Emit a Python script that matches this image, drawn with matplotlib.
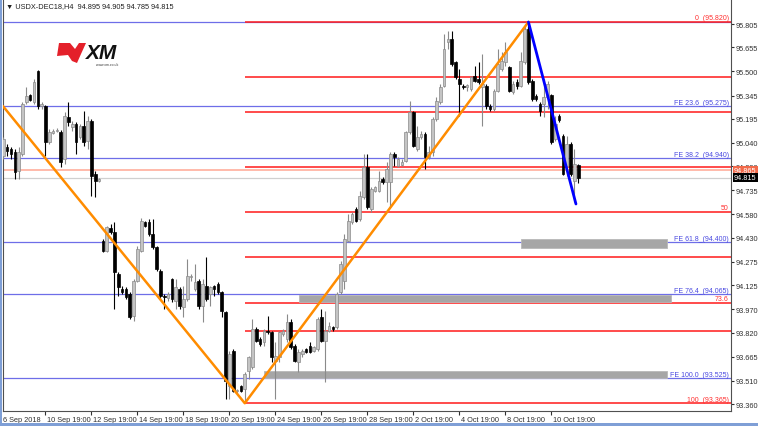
import matplotlib.pyplot as plt
import matplotlib.transforms as mtransforms
from matplotlib.patches import Rectangle, Polygon

plt.rcParams['font.family'] = ['Liberation Sans', 'DejaVu Sans']

# H4 candles, USDX-DEC18 (bar 0 = 6 Sep 2018)
opens = [94.956, 95.014, 95.001, 94.982, 94.859, 94.969, 95.303, 95.348, 95.303, 95.503,
         95.277, 95.277, 95.046, 95.104, 95.117, 95.110, 94.937, 95.207, 95.143, 95.162,
         95.078, 95.149, 95.052, 95.181, 94.840, 94.795,
         94.409, 94.345, 94.493, 94.467, 94.196, 94.100, 94.100, 94.068, 93.926, 94.152,
         94.345, 94.531, 94.531, 94.454, 94.370, 94.216, 94.055, 94.042, 94.164, 94.023,
         94.100, 93.984, 94.036, 94.177, 94.100, 94.152, 93.991, 94.119, 94.068, 94.119,
         94.132, 94.081, 93.952, 93.476, 93.701, 93.444, 93.476, 93.457,
         93.573, 93.598, 93.843, 93.778, 93.759, 93.830, 93.823, 93.637, 93.662, 93.811,
         93.778, 93.888, 93.733, 93.630, 93.682, 93.714, 93.733, 93.701, 93.714, 93.920,
         93.766, 93.830, 93.856, 93.856, 94.081, 94.152, 94.409, 94.531, 94.615, 94.550,
         94.692, 94.886, 94.615, 94.731, 94.731, 94.808, 94.789, 94.789, 94.969, 94.891,
         94.898, 94.924, 95.110, 95.239, 95.001, 95.078, 95.097, 94.949, 94.982, 95.194,
         95.303, 95.406, 95.689, 95.709, 95.561, 95.451, 95.406, 95.400, 95.387, 95.471,
         95.451, 95.400, 95.406, 95.277, 95.258, 95.374, 95.516, 95.561, 95.528, 95.368,
         95.432, 95.406, 95.561, 95.773, 95.438, 95.342, 95.290, 95.290, 95.335, 95.348,
         95.065, 95.213, 95.085, 94.891, 95.033, 94.795, 94.895]
highs = [95.078, 95.033, 95.014, 95.001, 95.014, 95.303, 95.400, 95.355, 95.451, 95.509,
         95.303, 95.284, 95.130, 95.130, 95.136, 95.123, 95.239, 95.303, 95.181, 95.175,
         95.162, 95.245, 95.213, 95.194, 94.859, 94.814,
         94.422, 94.505, 94.518, 94.531, 94.209, 94.119, 94.113, 94.081, 94.164, 94.377,
         94.557, 94.538, 94.550, 94.550, 94.377, 94.229, 94.068, 94.081, 94.171, 94.164,
         94.113, 94.119, 94.293, 94.196, 94.261, 94.164, 94.164, 94.306, 94.119, 94.125,
         94.145, 94.087, 93.959, 93.701, 93.714, 93.457, 93.482, 93.566,
         93.669, 93.907, 93.856, 93.791, 93.843, 93.926, 93.830, 93.759, 93.830, 93.843,
         93.939, 93.907, 93.746, 93.714, 93.714, 93.720, 93.759, 93.733, 93.920, 93.971,
         93.959, 93.888, 93.862, 94.081, 94.280, 94.454, 94.583, 94.596, 94.628, 94.731,
         94.969, 94.969, 94.756, 94.763, 94.859, 94.821, 94.917, 94.982, 94.982, 94.949,
         94.937, 95.117, 95.310, 95.245, 95.149, 95.117, 95.110, 95.020, 95.207, 95.335,
         95.419, 95.741, 95.760, 95.760, 95.567, 95.516, 95.419, 95.419, 95.471, 95.535,
         95.561, 95.612, 95.419, 95.290, 95.387, 95.644, 95.625, 95.689, 95.535, 95.438,
         95.451, 95.625, 95.805, 95.818, 95.451, 95.355, 95.303, 95.451, 95.438, 95.355,
         95.213, 95.226, 95.097, 95.085, 95.046, 95.001, 94.905]
lows = [94.937, 94.956, 94.937, 94.808, 94.808, 94.956, 95.290, 95.310, 95.290, 95.258,
        95.258, 94.956, 95.033, 95.097, 95.110, 94.886, 94.904, 95.149, 95.117, 94.969,
        95.065, 95.020, 95.001, 94.698, 94.692, 94.789,
        94.338, 94.338, 94.454, 93.971, 94.055, 94.068, 94.036, 93.907, 93.894, 94.145,
        94.338, 94.499, 94.441, 94.357, 94.216, 94.036, 93.971, 94.023, 94.017, 93.971,
        93.971, 93.920, 94.023, 94.152, 94.087, 93.971, 93.888, 94.023, 93.991, 94.055,
        94.068, 93.920, 93.392, 93.392, 93.437, 93.431, 93.437, 93.365,
        93.521, 93.585, 93.759, 93.733, 93.733, 93.811, 93.630, 93.392, 93.630, 93.798,
        93.759, 93.714, 93.630, 93.566, 93.662, 93.688, 93.688, 93.695, 93.701, 93.759,
        93.502, 93.823, 93.830, 93.843, 94.068, 94.100, 94.403, 94.518, 94.531, 94.538,
        94.679, 94.615, 94.596, 94.724, 94.724, 94.776, 94.660, 94.628, 94.891, 94.886,
        94.891, 94.917, 95.097, 95.014, 94.988, 95.065, 94.872, 94.937, 94.956, 95.181,
        95.290, 95.400, 95.644, 95.535, 95.451, 95.213, 95.387, 95.374, 95.374, 95.432,
        95.419, 95.149, 95.258, 95.245, 95.245, 95.368, 95.503, 95.535, 95.368, 95.355,
        95.387, 95.400, 95.548, 95.419, 95.310, 95.310, 95.213, 95.207, 95.258, 95.033,
        95.052, 95.175, 94.834, 94.827, 94.827, 94.660, 94.785]
closes = [95.065, 94.988, 94.969, 94.853, 94.982, 95.290, 95.342, 95.316, 95.432, 95.277,
          95.290, 95.046, 95.110, 95.117, 95.123, 94.917, 95.213, 95.175, 95.162, 95.046,
          95.149, 95.046, 95.181, 94.827, 94.795, 94.808,
          94.345, 94.499, 94.467, 94.209, 94.113, 94.081, 94.049, 93.920, 94.152, 94.357,
          94.538, 94.505, 94.454, 94.370, 94.229, 94.055, 94.049, 94.068, 94.036, 94.113,
          93.991, 94.036, 94.184, 94.184, 94.145, 93.991, 94.132, 94.036, 94.113, 94.100,
          94.081, 93.959, 93.508, 93.682, 93.444, 93.450, 93.444, 93.553,
          93.662, 93.843, 93.766, 93.746, 93.830, 93.826, 93.662, 93.669, 93.823, 93.830,
          93.888, 93.727, 93.637, 93.695, 93.701, 93.695, 93.695, 93.727, 93.907, 93.766,
          93.830, 93.862, 93.843, 94.068, 94.261, 94.422, 94.538, 94.583, 94.538, 94.698,
          94.886, 94.628, 94.743, 94.756, 94.795, 94.789, 94.872, 94.969, 94.949, 94.937,
          94.917, 95.110, 95.239, 95.020, 95.078, 95.097, 94.949, 94.982, 95.194, 95.310,
          95.400, 95.644, 95.709, 95.548, 95.464, 95.419, 95.400, 95.410, 95.464, 95.438,
          95.432, 95.419, 95.277, 95.258, 95.374, 95.548, 95.567, 95.625, 95.374, 95.419,
          95.406, 95.567, 95.773, 95.432, 95.322, 95.322, 95.245, 95.335, 95.419, 95.046,
          95.162, 95.187, 94.840, 95.033, 94.840, 94.904, 94.815]

date_ticks = [11, 23, 35, 47, 59, 71, 83, 95, 107, 119, 131, 143]
date_labels = ['10 Sep 19:00', '12 Sep 19:00', '14 Sep 19:00', '18 Sep 19:00', '20 Sep 19:00',
               '24 Sep 19:00', '26 Sep 19:00', '28 Sep 19:00', '2 Oct 19:00', '4 Oct 19:00',
               '8 Oct 19:00', '10 Oct 19:00']
price_ticks = [95.805, 95.655, 95.500, 95.345, 95.195, 95.040, 94.890, 94.735, 94.580,
               94.430, 94.275, 94.125, 93.970, 93.820, 93.665, 93.510, 93.360]

# fibonacci retracement (red) from the 20 Sep low, expansion levels (blue)
fib_start = 63
fib_levels = [95.820, 95.464, 95.239, 94.886, 94.596, 94.306, 94.010, 93.830, 93.365]
fib_text = {0: '0  (95.820)', 4: '50', 6: '73.6', 8: '100  (93.365)'}
fe_levels = [95.817, 95.275, 94.940, 94.400, 94.065, 93.525]
fe_text = ['', 'FE 23.6_(95.275)', 'FE 38.2_(94.940)', 'FE 61.8_(94.400)',
           'FE 76.4_(94.065)', 'FE 100.0_(93.525)']
# grey zones: start bar, end bar, low, high
zones = [(135.1, 173.2, 94.364, 94.422),
         (77.1, 174.2, 94.017, 94.062),
         (68.0, 173.2, 93.527, 93.573)]
swing_x = [-0.1, 63, 137]
swing_y = [95.277, 93.365, 95.818]
leg_x = [137, 149.4]
leg_y = [95.818, 94.647]
bid, ask = 94.815, 94.865

W, H = 758, 427
fig = plt.figure(figsize=(W / 100, H / 100), dpi=100)
ax = fig.add_axes([3 / W, 15 / H, 728 / W, 412 / H])
ax.set_xlim(-0.08, 189.85)
ax.set_ylim(93.315, 95.966)

# horizontal levels
for lv, txt in zip(fe_levels, fe_text):
    ax.axhline(lv, color='#6e6ee8', lw=0.9, zorder=1)
    if txt:
        ax.text(0.997, lv + 0.004, txt, transform=ax.get_yaxis_transform(), ha='right',
                va='bottom', fontsize=5, color='#4848e0', zorder=6)
for i, lv in enumerate(fib_levels):
    ax.hlines(lv, fib_start, 200, color='#ff1a1a', lw=1.1, zorder=2)
    if i in fib_text:
        ax.text(0.997, lv + 0.004, fib_text[i], transform=ax.get_yaxis_transform(),
                ha='right', va='bottom', fontsize=5, color='#ff3030', zorder=6)
ax.axhline(ask, color='#ffb4a4', lw=1.3, zorder=1)
ax.axhline(bid, color='#d0d0d0', lw=0.9, zorder=1)

for x0, x1, lo, hi in zones:
    ax.add_patch(Rectangle((x0, lo), x1 - x0, hi - lo, facecolor='#a6a6a6',
                           edgecolor='#b8b8b8', lw=0.6, zorder=3))

# candles
for i, (o, h, l, c) in enumerate(zip(opens, highs, lows, closes)):
    up = c >= o
    col = '#8a8a8a' if up else '#000000'
    ax.vlines(i, l, h, color=col, lw=0.8, zorder=4)
    body = max(abs(c - o), 0.005)
    ax.bar(i, body, bottom=min(o, c), width=0.68, color='#c4c4c4' if up else '#000000',
           edgecolor=col, lw=0.5, zorder=5)

ax.plot(swing_x, swing_y, color='#ff8c00', lw=1.8, zorder=7, solid_capstyle='round')
ax.plot(leg_x, leg_y, color='#0000ff', lw=2.0, zorder=7, solid_capstyle='round')

# axes styling
for side in ['top']:
    ax.spines[side].set_visible(False)
for side in ['left', 'right', 'bottom']:
    ax.spines[side].set_color('#505050')
    ax.spines[side].set_linewidth(0.8)
ax.yaxis.tick_right()
ax.set_yticks(price_ticks)
ax.set_yticklabels([f'{p:.3f}' for p in price_ticks])
ax.tick_params(axis='y', labelsize=5.3, length=2, pad=1.5, colors='#303030')
ax.set_xticks(date_ticks)
ax.set_xticklabels([])
ax.tick_params(axis='x', length=3, colors='#303030')
xt = ax.get_xaxis_transform()
ax.text(0, -0.012, '6 Sep 2018', transform=xt, ha='left', va='top', fontsize=5.3,
        color='#303030')
for b, lab in zip(date_ticks, date_labels):
    ax.text(b + 0.5, -0.012, lab, transform=xt, ha='left', va='top', fontsize=5.3,
            color='#303030')

# current price tags on the scale
yt = ax.get_yaxis_transform()
ax.text(1.004, ask, f'{ask:.3f}', transform=yt, ha='left', va='center', fontsize=5.3,
        color='white', zorder=10, clip_on=False,
        bbox=dict(boxstyle='square,pad=0.15', fc='#f26a4a', ec='none'))
ax.text(1.004, bid, f'{bid:.3f}', transform=yt, ha='left', va='center', fontsize=5.3,
        color='white', zorder=10, clip_on=False,
        bbox=dict(boxstyle='square,pad=0.15', fc='#000000', ec='none'))

# title line
ax.text(0.004, 0.993, '\u25bc USDX-DEC18,H4  94.895 94.905 94.785 94.815', transform=ax.transAxes,
        ha='left', va='top', fontsize=5.3, color='#202020')

# broker logo
logo = [(59, 44), (70, 44), (75, 50), (79, 44), (86, 44), (81, 55), (77, 64), (72, 62),
        (68, 56), (57, 57)]
fig.patches.append(Polygon([(x / W, 1 - y / H) for x, y in logo], closed=True,
                           transform=fig.transFigure, facecolor='#e4202a', edgecolor='none'))
fig.text(86 / W, 1 - 59 / H, 'XM', fontsize=15, fontweight='bold', fontstyle='italic',
         color='#111111')
fig.text(96 / W, 1 - 66 / H, 'www.xm.co.uk', fontsize=2.5, color='#333333')

# window frame
fig.patches.append(Rectangle((0, 0), 2 / W, 1, transform=fig.transFigure,
                             facecolor='#7f9fd6', edgecolor='none'))
fig.patches.append(Rectangle((0, 0), 1, 3 / H, transform=fig.transFigure,
                             facecolor='#7f9fd6', edgecolor='none'))

fig.savefig('out.png', dpi=100)
